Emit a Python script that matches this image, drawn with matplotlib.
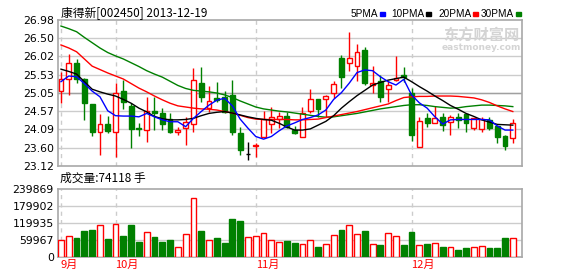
import matplotlib
matplotlib.use("Agg")
import matplotlib.pyplot as plt
from matplotlib.patches import Rectangle
import numpy as np

plt.rcParams['font.family'] = ['Noto Sans CJK SC', 'DejaVu Sans']

# daily k-line of 康得新, 2013-09-18 .. 2013-12-19
opens = [25.10, 25.41, 25.83, 25.41, 24.76, 24.03, 24.23, 24.03, 25.09, 24.71,
         24.13, 24.07, 24.57, 24.51, 24.35, 24.01, 24.12, 24.22, 25.32, 24.65,
         24.91, 24.94, 25.00, 23.98, 23.44, 23.65, 23.88, 24.22, 24.37, 24.44,
         24.07, 23.88, 24.57, 24.88, 24.90, 25.06, 25.97, 25.83, 25.76, 26.19,
         25.26, 25.37, 25.15, 25.39, 25.53, 25.06, 23.63, 24.40, 24.27, 24.41,
         24.29, 24.41, 24.49, 24.12, 24.09, 24.34, 24.18, 23.90, 23.85]
highs = [25.61, 26.08, 25.94, 25.44, 24.76, 24.50, 24.44, 25.32, 25.39, 24.78,
         24.25, 24.95, 24.94, 24.65, 24.51, 24.14, 24.42, 25.70, 25.75, 25.23,
         25.35, 25.09, 25.39, 24.16, 23.76, 23.72, 24.58, 24.67, 24.56, 24.56,
         24.18, 24.67, 25.15, 24.88, 25.00, 25.37, 26.05, 26.65, 26.35, 26.27,
         25.76, 25.53, 25.38, 26.03, 25.73, 25.17, 24.42, 24.51, 24.71, 24.51,
         24.47, 24.51, 24.49, 24.38, 24.41, 24.41, 24.18, 23.94, 24.35]
lows = [24.78, 25.00, 25.31, 24.34, 23.90, 23.41, 23.98, 23.37, 24.62, 23.59,
        23.90, 23.76, 24.07, 24.07, 23.98, 23.94, 23.68, 24.03, 24.82, 24.56,
        24.82, 24.53, 23.94, 23.41, 23.28, 23.37, 23.88, 23.98, 24.12, 24.12,
        23.96, 23.88, 24.53, 24.42, 24.42, 24.91, 25.17, 25.64, 25.37, 25.26,
        25.06, 24.82, 24.80, 25.38, 25.35, 23.79, 23.61, 24.16, 24.27, 24.05,
        23.94, 24.12, 24.03, 24.07, 24.03, 24.07, 23.74, 23.53, 23.72]
closes = [25.41, 25.83, 25.41, 24.79, 24.03, 24.23, 24.05, 25.04, 24.82, 24.09,
          24.09, 24.57, 24.53, 24.22, 24.03, 24.07, 24.29, 25.39, 24.95, 24.84,
          24.87, 24.56, 24.03, 23.54, 23.44, 23.68, 24.35, 24.41, 24.43, 24.16,
          24.00, 24.53, 24.88, 24.62, 24.96, 25.28, 25.48, 25.97, 26.13, 25.32,
          25.31, 24.95, 25.26, 25.44, 25.46, 23.94, 24.31, 24.27, 24.38, 24.20,
          24.41, 24.34, 24.25, 24.38, 24.35, 24.12, 23.88, 23.65, 24.27]
volumes = [59000, 74400, 67400, 92200, 95700, 112300, 63800, 115800, 74400, 113400,
           53200, 87400, 70900, 53200, 60300, 34300, 80300, 208000, 92200, 59100,
           67400, 49600, 134700, 127600, 69700, 73300, 83900, 59100, 53200, 56700,
           49600, 44900, 59100, 35400, 44900, 76800, 95700, 112300, 80300, 92200,
           44900, 42500, 83900, 73300, 42500, 88600, 41400, 46100, 48400, 35400,
           34300, 24800, 31900, 34300, 39000, 31900, 31900, 67400, 66000]

ma5 = [25.35, 25.50, 25.48, 25.30, 25.10, 24.95, 24.58, 24.45, 24.44, 24.44,
       24.42, 24.51, 24.42, 24.34, 24.29, 24.29, 24.16, 24.38, 24.56, 24.73,
       24.86, 24.91, 24.71, 24.36, 24.12, 23.90, 23.83, 23.90, 24.05, 24.18,
       24.26, 24.35, 24.40, 24.47, 24.60, 24.88, 25.06, 25.31, 25.59, 25.66,
       25.64, 25.48, 25.35, 25.26, 25.41, 25.00, 24.79, 24.65, 24.42, 24.23,
       24.34, 24.35, 24.35, 24.35, 24.35, 24.34, 24.18, 24.07, 24.07]
ma10 = [25.68, 25.62, 25.55, 25.35, 25.15, 25.08, 25.02, 24.97, 24.88, 24.78,
        24.65, 24.55, 24.43, 24.37, 24.34, 24.34, 24.35, 24.38, 24.45, 24.51,
        24.54, 24.56, 24.52, 24.47, 24.42, 24.38, 24.35, 24.33, 24.25, 24.15,
        24.07, 24.07, 24.10, 24.20, 24.30, 24.45, 24.65, 24.82, 24.98, 25.12,
        25.26, 25.33, 25.39, 25.43, 25.47, 25.35, 25.22, 25.10, 24.97, 24.85,
        24.72, 24.62, 24.51, 24.43, 24.34, 24.28, 24.22, 24.21, 24.20]
ma20 = [26.32, 26.24, 26.14, 25.95, 25.76, 25.67, 25.58, 25.50, 25.42, 25.30,
        25.18, 25.08, 24.97, 24.87, 24.78, 24.71, 24.68, 24.65, 24.63, 24.62,
        24.60, 24.56, 24.52, 24.46, 24.40, 24.36, 24.35, 24.35, 24.35, 24.35,
        24.34, 24.34, 24.35, 24.36, 24.40, 24.44, 24.48, 24.52, 24.56, 24.61,
        24.66, 24.71, 24.76, 24.85, 24.93, 24.95, 24.96, 24.96, 24.97, 24.97,
        24.97, 24.96, 24.94, 24.92, 24.87, 24.80, 24.71, 24.63, 24.56]
ma30 = [26.82, 26.75, 26.67, 26.52, 26.38, 26.24, 26.12, 26.03, 25.95, 25.85,
        25.75, 25.64, 25.55, 25.47, 25.36, 25.25, 25.17, 25.12, 25.10, 25.08,
        25.05, 25.00, 24.93, 24.84, 24.76, 24.68, 24.63, 24.60, 24.57, 24.55,
        24.52, 24.49, 24.46, 24.43, 24.41, 24.42, 24.45, 24.48, 24.51, 24.55,
        24.59, 24.63, 24.66, 24.69, 24.72, 24.74, 24.74, 24.72, 24.69, 24.67,
        24.65, 24.66, 24.69, 24.71, 24.73, 24.73, 24.72, 24.71, 24.69]

price_ticks = [23.12, 23.60, 24.09, 24.57, 25.05, 25.53, 26.02, 26.50, 26.98]
price_labels = ["23.12", "23.60", "24.09", "24.57", "25.05", "25.53", "26.02", "26.50", "26.98"]
vol_ticks = [0, 59967, 119935, 179902, 239869]
vol_labels = ["0", "59967", "119935", "179902", "239869"]
month_idx = [0, 7, 25, 45]
month_labels = ["9月", "10月", "11月", "12月"]

W, H = 578, 276
RED = '#ff0000'
GREEN = '#008000'
GRID = '#cccccc'
FRAME = '#a8a8a8'

fig = plt.figure(figsize=(W / 100, H / 100), dpi=100)
ax = fig.add_axes([58 / W, 1 - 166 / H, 464 / W, 146 / H])
axv = fig.add_axes([58 / W, 1 - 257 / H, 464 / W, 68 / H])

x = np.arange(len(closes))
o = np.array(opens)
c = np.array(closes)
cols = [RED if cc > oo else (GREEN if cc < oo else 'black') for oo, cc in zip(o, c)]
faces = ['white' if col == RED else col for col in cols]

# candles
ax.vlines(x, lows, highs, colors=cols, lw=1, zorder=2)
ax.bar(x, np.abs(c - o), bottom=np.minimum(o, c), width=0.62,
       color=faces, edgecolor=cols, lw=1, zorder=3)

# moving averages
ax.plot(x, ma30, color=GREEN, lw=1, zorder=4)
ax.plot(x, ma20, color=RED, lw=1, zorder=4)
ax.plot(x, ma10, color='black', lw=1, zorder=4)
ax.plot(x, ma5, color='blue', lw=1, zorder=4)

# volume
vcols = [RED if cc >= oo else GREEN for oo, cc in zip(o, c)]
vfaces = ['white' if col == RED else col for col in vcols]
axv.bar(x, volumes, width=0.75, color=vfaces, edgecolor=vcols, lw=1, zorder=3)

for a, ticks, labels in [(ax, price_ticks, price_labels), (axv, vol_ticks, vol_labels)]:
    a.set_xlim(-0.385, 59.18)
    a.set_ylim(ticks[0], ticks[-1])
    a.set_yticks(ticks)
    a.set_yticklabels(labels, fontsize=7.8, family='DejaVu Sans')
    a.tick_params(length=0, pad=3)
    for t in ticks[1:-1]:
        a.axhline(t, color=GRID, lw=1, zorder=1)
    for m in month_idx:
        a.axvline(m, color=GRID, lw=1, ls=(0, (3, 3)), zorder=1)
    for s in a.spines.values():
        s.set_color(FRAME)
        s.set_linewidth(1.2)

ax.axhline(price_ticks[4], color='#a0a0a0', lw=1, zorder=1)
ax.set_xticks([])

axv.set_xticks(month_idx)
axv.set_xticklabels(month_labels, fontsize=8, color=RED)
for lbl in axv.get_xticklabels():
    lbl.set_ha('left')
axv.tick_params(axis='x', pad=2)

# texts
fig.text(61 / W, 1 - 14 / H, "康得新[002450] 2013-12-19", fontsize=8.5, va='center')
fig.text(60 / W, 1 - 178 / H, "成交量:74118 手", fontsize=8.5, va='center')

legend = [("5PMA", 351, 'blue'), ("10PMA", 391, 'black'),
          ("20PMA", 438, RED), ("30PMA", 481, GREEN)]
fig.canvas.draw()
renderer = fig.canvas.get_renderer()
for name, px, col in legend:
    t = fig.text(px / W, 1 - 14 / H, name, fontsize=7.2, va='center', family='Liberation Sans')
    right = t.get_window_extent(renderer).x1
    fig.add_artist(Rectangle(((right + 1.5) / W, 1 - 15.5 / H), 5 / W, 3.5 / H,
                             transform=fig.transFigure, color=col))

# watermark
fig.text(481 / W, 1 - 35 / H, "东方财富网", fontsize=11, color='#d4d4d4',
         weight='bold', ha='center', va='center')
fig.text(481 / W, 1 - 47 / H, "eastmoney.com", fontsize=6.5, color='#d4d4d4',
         weight='bold', ha='center', va='center', family='DejaVu Sans')

fig.savefig("out.png", dpi=100)
